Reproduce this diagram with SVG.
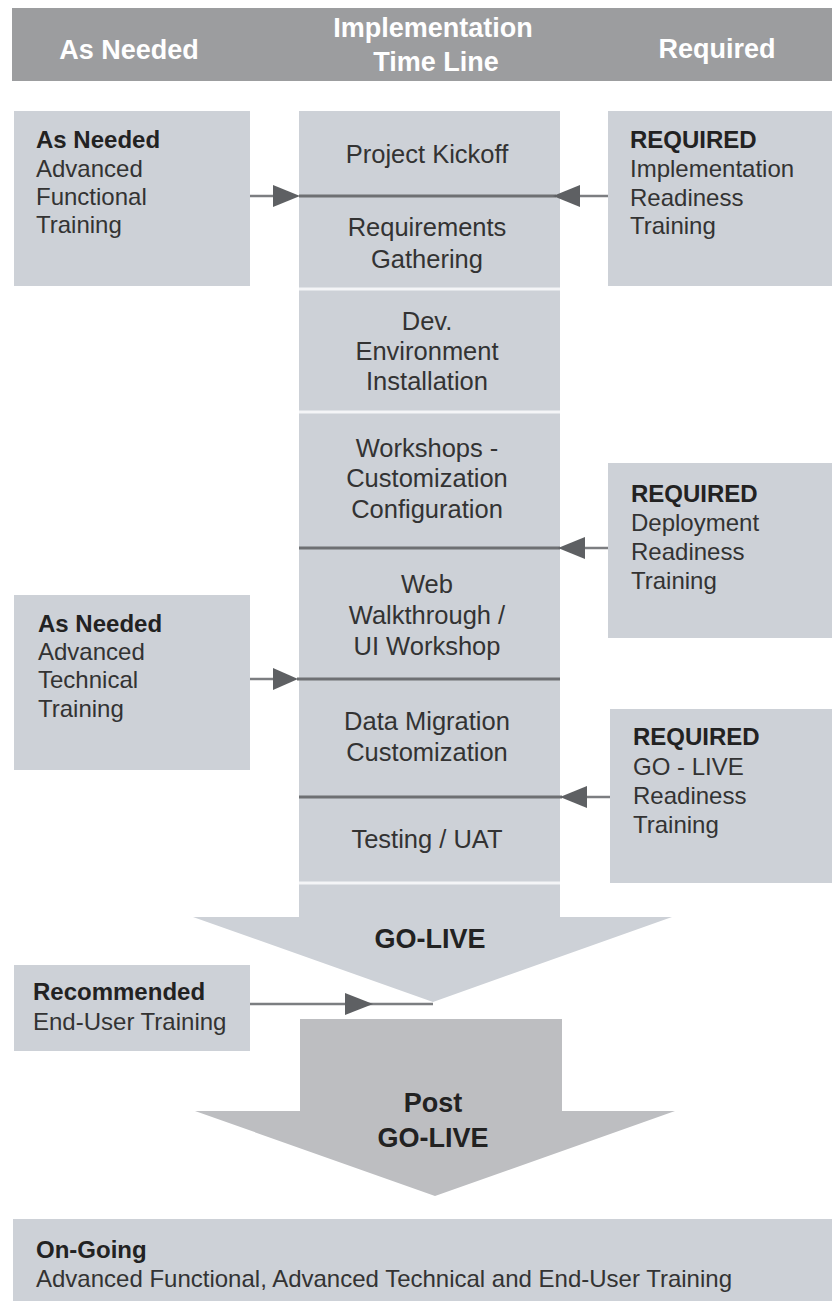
<svg xmlns="http://www.w3.org/2000/svg" width="832" height="1301" viewBox="0 0 832 1301">
<defs>
<style>
.hdr{font-family:"Liberation Sans",Arial,sans-serif;font-weight:bold;font-size:27px;fill:#ffffff;text-anchor:middle}
.box{fill:#cdd1d7}
.side{font-family:"Liberation Sans",Arial,sans-serif;font-size:24px;fill:#333333}
.side .b{font-weight:bold;fill:#222222}
.ctr{font-family:"Liberation Sans",Arial,sans-serif;font-size:25.5px;fill:#333333;text-anchor:middle}
.big{font-family:"Liberation Sans",Arial,sans-serif;font-weight:bold;font-size:27px;fill:#222222;text-anchor:middle}
.sep{stroke:#f4f5f7;stroke-width:3}
.thick{stroke:#6e7073;stroke-width:3;fill:none}
.thin{stroke:#7c7e81;stroke-width:2.5;fill:none}
.head{fill:#5e6063}
</style>
</defs>
<rect width="832" height="1301" fill="#ffffff"/>
<g id="header">
<rect x="12" y="8" width="820" height="73" fill="#9c9d9f"/>
<text class="hdr" x="129" y="59">As Needed</text>
<text class="hdr" x="433" y="37">Implementation</text>
<text class="hdr" x="436" y="71">Time Line</text>
<text class="hdr" x="717" y="58">Required</text>
</g>
<g id="timeline">
<path class="box" d="M299,111 H560 V917 H672 L433,1002 L193,917 H299 Z"/>
<line class="sep" x1="299" y1="289" x2="560" y2="289"/>
<line class="sep" x1="299" y1="412" x2="560" y2="412"/>
<line class="sep" x1="299" y1="883" x2="560" y2="883"/>
</g>
<g id="n-kickoff"><text class="ctr" x="427" y="163">Project Kickoff</text></g>
<g id="n-requirements"><text class="ctr" x="427" y="236">Requirements</text><text class="ctr" x="427" y="268">Gathering</text></g>
<g id="n-dev"><text class="ctr" x="427" y="330">Dev.</text><text class="ctr" x="427" y="360">Environment</text><text class="ctr" x="427" y="390">Installation</text></g>
<g id="n-workshops"><text class="ctr" x="427" y="457">Workshops -</text><text class="ctr" x="427" y="487">Customization</text><text class="ctr" x="427" y="518">Configuration</text></g>
<g id="n-web"><text class="ctr" x="427" y="593">Web</text><text class="ctr" x="427" y="624">Walkthrough /</text><text class="ctr" x="427" y="655">UI Workshop</text></g>
<g id="n-data"><text class="ctr" x="427" y="730">Data Migration</text><text class="ctr" x="427" y="761">Customization</text></g>
<g id="n-testing"><text class="ctr" x="427" y="848">Testing / UAT</text></g>
<g id="n-golive"><text class="big" x="430" y="948">GO-LIVE</text></g>
<g id="n-postgolive">
<path fill="#bdbec1" d="M300,1019 H562 V1111 H675 L435,1196 L195,1111 H300 Z"/>
<text class="big" x="433" y="1112">Post</text>
<text class="big" x="433" y="1147">GO-LIVE</text>
</g>
<g id="n-asneeded-func" class="side">
<rect class="box" x="14" y="111" width="236" height="175"/>
<text x="36" y="148" class="b">As Needed</text>
<text x="36" y="177">Advanced</text>
<text x="36" y="205">Functional</text>
<text x="36" y="233">Training</text>
</g>
<g id="n-req-impl" class="side">
<rect class="box" x="608" y="111" width="224" height="175"/>
<text x="630" y="148" class="b">REQUIRED</text>
<text x="630" y="177">Implementation</text>
<text x="630" y="206">Readiness</text>
<text x="630" y="234">Training</text>
</g>
<g id="n-req-deploy" class="side">
<rect class="box" x="608" y="463" width="224" height="175"/>
<text x="631" y="502" class="b">REQUIRED</text>
<text x="631" y="531">Deployment</text>
<text x="631" y="560">Readiness</text>
<text x="631" y="589">Training</text>
</g>
<g id="n-asneeded-tech" class="side">
<rect class="box" x="14" y="595" width="236" height="175"/>
<text x="38" y="632" class="b">As Needed</text>
<text x="38" y="660">Advanced</text>
<text x="38" y="688">Technical</text>
<text x="38" y="717">Training</text>
</g>
<g id="n-req-golive" class="side">
<rect class="box" x="610" y="709" width="222" height="174"/>
<text x="633" y="745" class="b">REQUIRED</text>
<text x="633" y="775">GO - LIVE</text>
<text x="633" y="804">Readiness</text>
<text x="633" y="833">Training</text>
</g>
<g id="n-recommended" class="side">
<rect class="box" x="14" y="965" width="236" height="86"/>
<text x="33" y="1000" class="b">Recommended</text>
<text x="33" y="1030">End-User Training</text>
</g>
<g id="n-ongoing" class="side">
<rect class="box" x="13" y="1219" width="819" height="82"/>
<text x="36" y="1258" class="b">On-Going</text>
<text x="36" y="1287">Advanced Functional, Advanced Technical and End-User Training</text>
</g>
<g id="connectors">
<line class="thick" x1="299" y1="196" x2="556" y2="196"/>
<line class="thin" x1="250" y1="196" x2="276" y2="196"/>
<polygon class="head" points="273,185 300,196 273,207"/>
<line class="thin" x1="578" y1="196" x2="608" y2="196"/>
<polygon class="head" points="580,185 553,196 580,207"/>
<line class="thick" x1="299" y1="548" x2="560" y2="548"/>
<line class="thin" x1="583" y1="548" x2="608" y2="548"/>
<polygon class="head" points="585,537 558,548 585,559"/>
<line class="thick" x1="297" y1="679" x2="560" y2="679"/>
<line class="thin" x1="250" y1="679" x2="276" y2="679"/>
<polygon class="head" points="273,668 298,679 273,690"/>
<line class="thick" x1="299" y1="797" x2="562" y2="797"/>
<line class="thin" x1="585" y1="797" x2="610" y2="797"/>
<polygon class="head" points="587,786 560,797 587,808"/>
<line class="thin" x1="250" y1="1004" x2="433" y2="1004"/>
<polygon class="head" points="345,993 373,1004 345,1015"/>
</g>
</svg>
